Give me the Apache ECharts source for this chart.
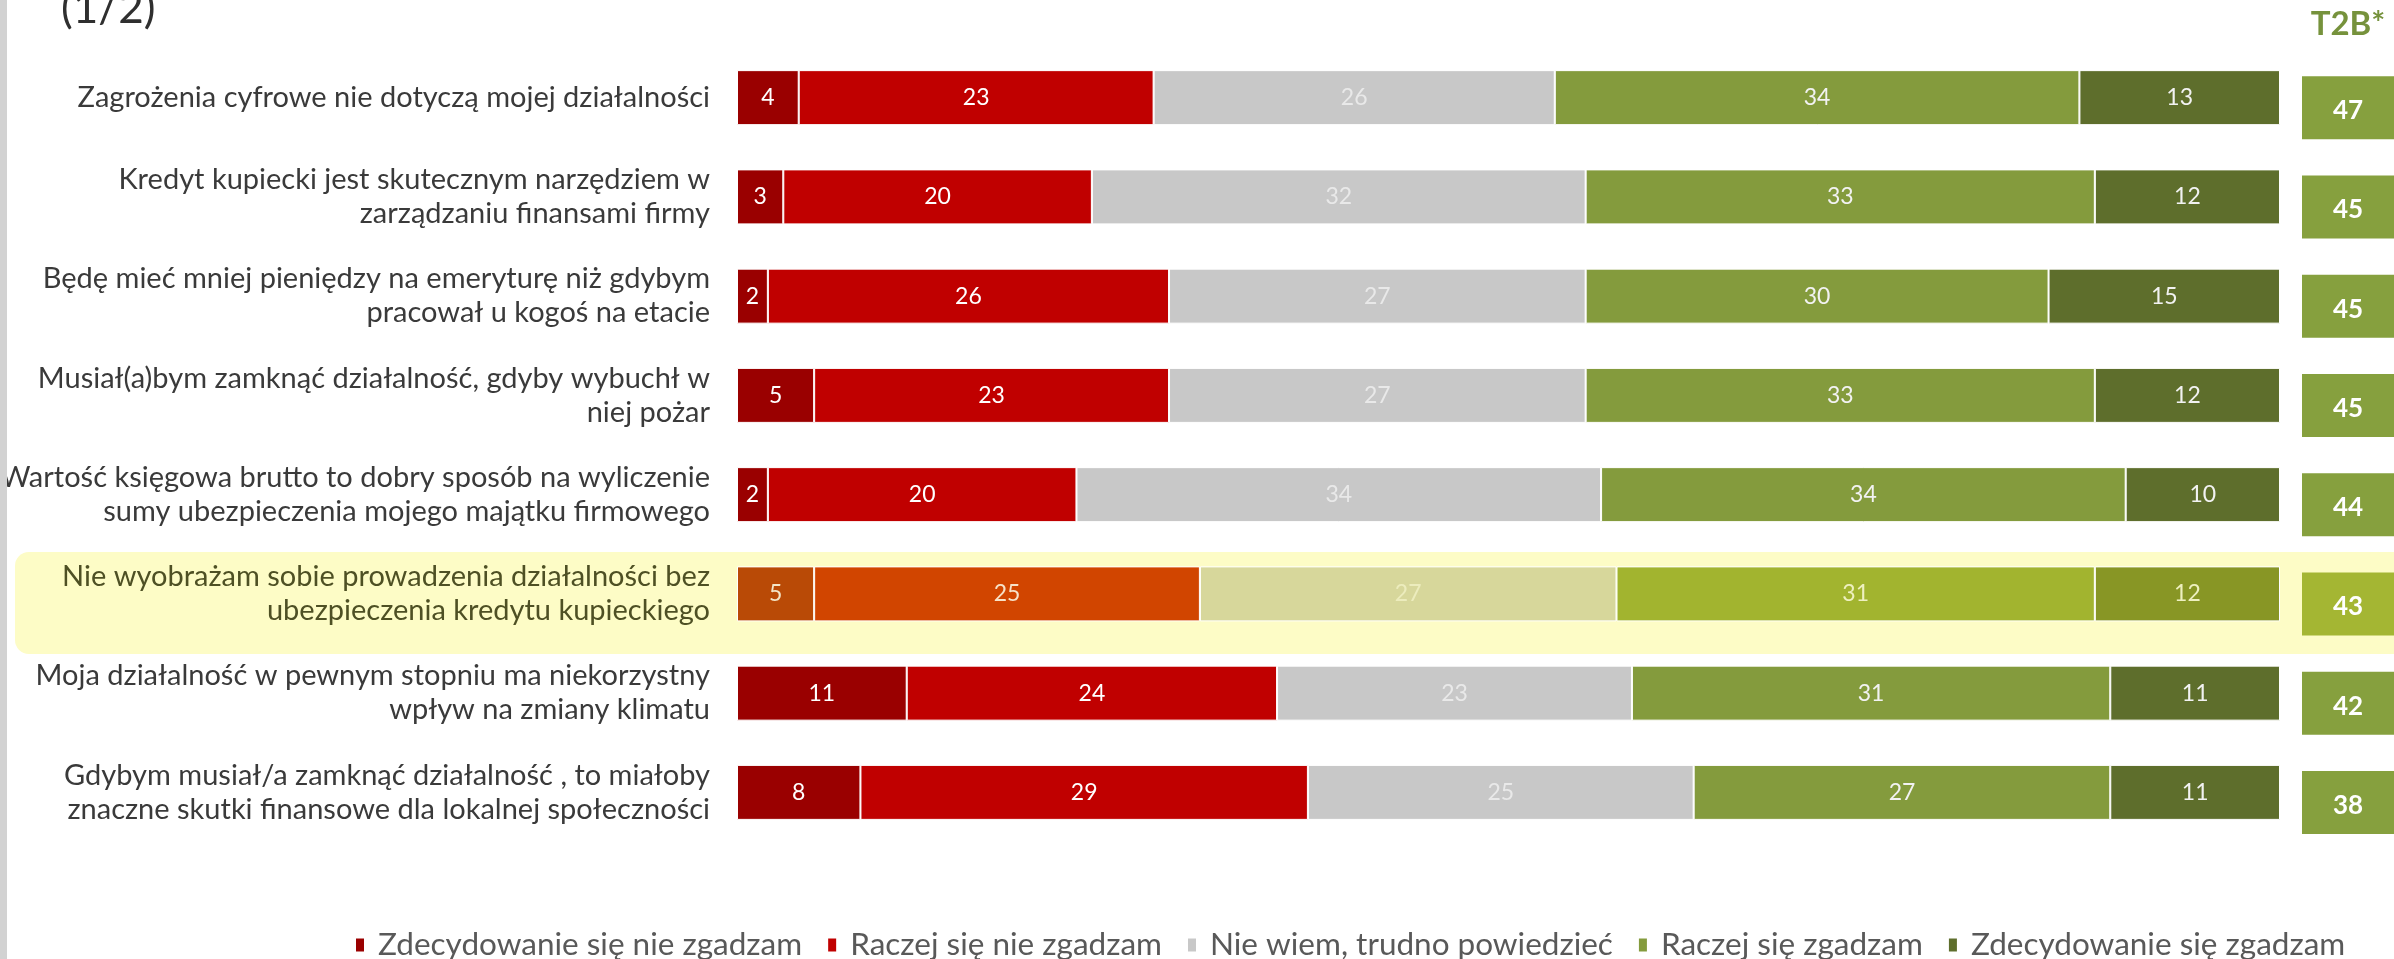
<!DOCTYPE html>
<html>
<head>
<meta charset="utf-8">
<script src="https://cdn.jsdelivr.net/npm/echarts@6/dist/echarts.min.js"></script>
<style>
  html, body { margin: 0; padding: 0; background: #ffffff; }
  #chart { width: 2394px; height: 959px; }
</style>
</head>
<body>
<div id="chart"></div>
<script>
const categories = [
  'Zagrożenia cyfrowe nie dotyczą mojej działalności',
  'Kredyt kupiecki jest skutecznym narzędziem w\nzarządzaniu finansami firmy',
  'Będę mieć mniej pieniędzy na emeryturę niż gdybym\npracował u kogoś na etacie',
  'Musiał(a)bym zamknąć działalność, gdyby wybuchł w\nniej pożar',
  'Wartość księgowa brutto to dobry sposób na wyliczenie\nsumy ubezpieczenia mojego majątku firmowego',
  'Nie wyobrażam sobie prowadzenia działalności bez\nubezpieczenia kredytu kupieckiego',
  'Moja działalność w pewnym stopniu ma niekorzystny\nwpływ na zmiany klimatu',
  'Gdybym musiał/a zamknąć działalność , to miałoby\nznaczne skutki finansowe dla lokalnej społeczności'
];
const seriesNames = [
  'Zdecydowanie się nie zgadzam',
  'Raczej się nie zgadzam',
  'Nie wiem, trudno powiedzieć',
  'Raczej się zgadzam',
  'Zdecydowanie się zgadzam'
];
const strongDisagree = [4, 3, 2, 5, 2, 5, 11, 8];
const ratherDisagree = [23, 20, 26, 23, 20, 25, 24, 29];
const dontKnow       = [26, 32, 27, 27, 34, 27, 23, 25];
const ratherAgree    = [34, 33, 30, 33, 34, 31, 31, 27];
const strongAgree    = [13, 12, 15, 12, 10, 12, 11, 11];
const t2b            = [47, 45, 45, 45, 44, 43, 42, 38];
const t2bTitle = 'T2B*';
const pageTitle = '(1/2)';
const highlightIndex = 5;

const seriesValues = [strongDisagree, ratherDisagree, dontKnow, ratherAgree, strongAgree];
const colors   = ['#9a0000', '#c00000', '#c8c8c8', '#849b3d', '#5e6e2c'];
const hlColors = ['#b94a06', '#d14500', '#d7d79b', '#a2b42f', '#889625'];
const labelColors   = ['#ffffff', '#ffffff', '#e9e9e9', '#f2f2f2', '#f2f2f2'];
const hlLabelColors = ['#f3e6c8', '#f7e2c8', '#ececbd', '#eef0c0', '#eef0c0'];

const FONT = 'Lato, "Open Sans", sans-serif';

const barSeries = seriesValues.map((vals, s) => ({
  name: seriesNames[s],
  type: 'bar',
  stack: 'total',
  xAxisIndex: 0,
  yAxisIndex: 0,
  barWidth: 55,
  itemStyle: { color: colors[s], borderColor: '#ffffff', borderWidth: 1 },
  label: {
    show: true,
    position: 'inside',
    color: labelColors[s],
    fontSize: 23,
    fontFamily: FONT
  },
  data: vals.map((v, i) => i === highlightIndex
    ? { value: v, itemStyle: { color: hlColors[s] }, label: { color: hlLabelColors[s] } }
    : v)
}));

const t2bSeries = {
  name: t2bTitle,
  type: 'bar',
  xAxisIndex: 1,
  yAxisIndex: 1,
  barWidth: 63,
  clip: true,
  itemStyle: { color: '#86a03e' },
  label: {
    show: true,
    position: 'inside',
    color: '#ffffff',
    fontSize: 26,
    fontWeight: 'bold',
    fontFamily: FONT,
    offset: [0, 3]
  },
  data: t2b.map((v, i) => i === highlightIndex ? { value: v, itemStyle: { color: '#a4b633' } } : v)
};

const chart = echarts.init(document.getElementById('chart'), null, { renderer: 'canvas' });
chart.setOption({
  animation: false,
  backgroundColor: '#ffffff',
  grid: [
    { left: 737, right: 114, top: 48, height: 794, containLabel: false, outerBoundsMode: 'none' },
    { left: 2302, width: 92, top: 58, height: 794, containLabel: false, outerBoundsMode: 'none' }
  ],
  xAxis: [
    { type: 'value', gridIndex: 0, min: 0, max: 100, show: false },
    { type: 'value', gridIndex: 1, min: 0, max: Math.min(...t2b), show: false }
  ],
  yAxis: [
    {
      type: 'category', gridIndex: 0, data: categories, inverse: true,
      axisLine: { show: false }, axisTick: { show: false }, splitLine: { show: false },
      axisLabel: {
        margin: 27,
        fontSize: 29,
        lineHeight: 34,
        fontFamily: FONT,
        align: 'right',
        color: (val, idx) => idx === highlightIndex ? '#4e5024' : '#3a3a3a'
      }
    },
    { type: 'category', gridIndex: 1, data: categories, inverse: true, show: false }
  ],
  legend: {
    data: seriesNames,
    left: 354,
    top: 929,
    width: 2300,
    padding: 0,
    icon: 'rect',
    itemWidth: 10,
    itemHeight: 15,
    itemGap: 24,
    textStyle: { fontSize: 31.5, color: '#595959', fontFamily: FONT, padding: [0, 0, 0, 8] }
  },
  graphic: [
    {
      type: 'rect', z: -10, silent: true,
      shape: { x: 15, y: 552, width: 2420, height: 102, r: 14 },
      style: { fill: '#fdfcc6' }
    },
    {
      type: 'rect', z: 100, silent: true,
      shape: { x: 0, y: 0, width: 7, height: 959 },
      style: { fill: '#d2d2d2' }
    },
    {
      type: 'text', z: 100, silent: true,
      x: 61, y: -13,
      style: { text: pageTitle, font: '44px ' + FONT, fill: '#2f2f2f' }
    },
    {
      type: 'text', z: 100, silent: true,
      x: 2348, y: 24,
      style: { text: t2bTitle, font: 'bold 33px ' + FONT, fill: '#76923c', align: 'center', verticalAlign: 'middle' }
    }
  ],
  series: [...barSeries, t2bSeries]
});
</script>
</body>
</html>
